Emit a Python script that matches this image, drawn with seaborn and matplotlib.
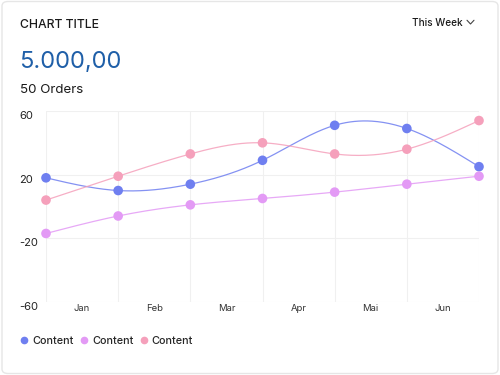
import numpy as np
import pandas as pd
import matplotlib
matplotlib.use("Agg")
import matplotlib.pyplot as plt
from matplotlib.patches import FancyBboxPatch
from matplotlib.lines import Line2D
import seaborn as sns

# data
months = ["Jan", "Feb", "Mar", "Apr", "Mai", "Jun"]
points_x = [0, 1, 2, 3, 4, 5, 6]
blue_vals = [18, 10, 14, 29, 51, 49, 25]
violet_vals = [-17, -6, 1, 5, 9, 14, 19]
pink_vals = [4, 19, 33, 40, 33, 36, 54]
series_names = ["Content", "Content", "Content"]
colors = ["#6f7ff0", "#e39af5", "#f5a0bb"]
y_ticks = [60, 20, -20, -60]


def natural_spline(x, y, n=300):
    x = np.asarray(x, float)
    y = np.asarray(y, float)
    k = len(x)
    h = np.diff(x)
    A = np.zeros((k, k))
    b = np.zeros(k)
    A[0, 0] = A[-1, -1] = 1
    for i in range(1, k - 1):
        A[i, i - 1] = h[i - 1]
        A[i, i] = 2 * (h[i - 1] + h[i])
        A[i, i + 1] = h[i]
        b[i] = 6 * ((y[i + 1] - y[i]) / h[i] - (y[i] - y[i - 1]) / h[i - 1])
    m = np.linalg.solve(A, b)
    xs = np.linspace(x[0], x[-1], n)
    idx = np.clip(np.searchsorted(x, xs) - 1, 0, k - 2)
    x0, x1 = x[idx], x[idx + 1]
    hh = x1 - x0
    t0, t1 = x1 - xs, xs - x0
    ys = (m[idx] * t0 ** 3 / (6 * hh) + m[idx + 1] * t1 ** 3 / (6 * hh)
          + (y[idx] / hh - m[idx] * hh / 6) * t0
          + (y[idx + 1] / hh - m[idx + 1] * hh / 6) * t1)
    return xs, ys


sns.set_style("white")
plt.rcParams["font.family"] = ["Inter", "DejaVu Sans"]

fig = plt.figure(figsize=(5, 3.75), dpi=100)
fig.patch.set_facecolor("white")

card = FancyBboxPatch((0.004, 0.004), 0.992, 0.992,
                      boxstyle="round,pad=0,rounding_size=0.012",
                      transform=fig.transFigure, facecolor="white",
                      edgecolor="#e6e6e6", linewidth=1.0, zorder=-10)
fig.patches.append(card)

ax = fig.add_axes([0.092, 0.195, 0.866, 0.509])
ax.set_facecolor("none")

series = [blue_vals, violet_vals, pink_vals]
for vals, c in zip(series, colors):
    xs, ys = natural_spline(points_x, vals)
    curve = pd.DataFrame({"x": xs, "y": ys})
    sns.lineplot(data=curve, x="x", y="y", ax=ax, color=c, linewidth=0.9,
                 alpha=0.85, zorder=2)
    pts = pd.DataFrame({"x": points_x, "y": vals})
    sns.scatterplot(data=pts, x="x", y="y", ax=ax, color=c, s=48,
                    edgecolor="none", zorder=3, clip_on=False)

ax.set_xlim(0, 6)
ax.set_ylim(-60, 60)
ax.set_xlabel("")
ax.set_ylabel("")

ax.set_yticks(y_ticks)
ax.set_yticklabels([str(v) for v in y_ticks], fontsize=8, color="#222222")
for lbl in ax.get_yticklabels():
    lbl.set_horizontalalignment("left")
    lbl.set_verticalalignment("top")
ax.tick_params(axis="y", length=0, pad=19.5)

ax.set_xticks(np.arange(len(months)) + 0.5)
ax.set_xticklabels(months, fontsize=6.8, color="#333333")
ax.tick_params(axis="x", length=0, pad=1.5)

# grid lines
for v in y_ticks:
    ax.axhline(v, color="#f0f0f0", linewidth=0.8, zorder=0)
for xv in points_x:
    ax.axvline(xv, color="#f0f0f0", linewidth=0.8, zorder=0)
for s in ax.spines.values():
    s.set_visible(False)

# header text
fig.text(0.04, 0.925, "CHART TITLE", fontsize=8.8, color="#1a1a1a",
         va="baseline", weight="medium")
fig.text(0.824, 0.931, "This Week", fontsize=7.2, color="#1a1a1a",
         va="baseline", weight="medium")
# dropdown chevron
fig.add_artist(Line2D([0.934, 0.941, 0.948], [0.946, 0.936, 0.946],
                      transform=fig.transFigure, color="#444444",
                      linewidth=0.8))
fig.text(0.038, 0.82, "5.000,00", fontsize=17, color="#1f5fa8",
         va="baseline")
fig.text(0.04, 0.753, "50 Orders", fontsize=9.6, color="#1a1a1a",
         va="baseline")

handles = [Line2D([], [], marker="o", linestyle="", color=c, markersize=4.5)
           for c in colors]
fig.legend(handles, series_names, loc="center left",
           bbox_to_anchor=(0.018, 0.09), ncol=3, frameon=False,
           handletextpad=0.25, columnspacing=0.45,
           handlelength=1.0, prop={"weight": "medium", "size": 7.8})

fig.savefig("out.png", dpi=100, facecolor="white")
